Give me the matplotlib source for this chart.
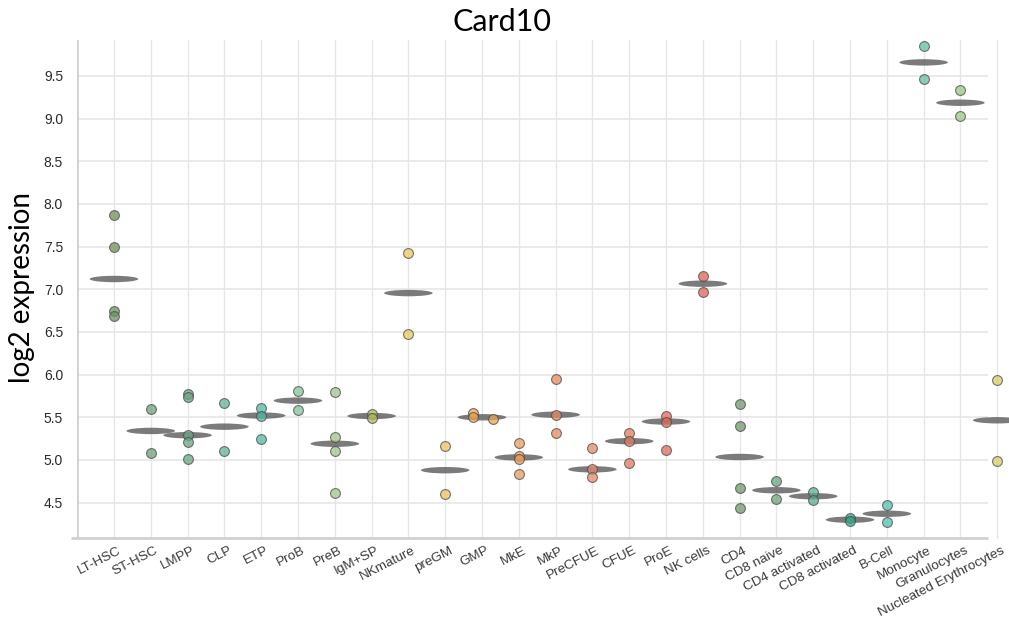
import numpy as np
import matplotlib
matplotlib.use("Agg")
import matplotlib.pyplot as plt
from matplotlib.patches import Ellipse
from matplotlib.transforms import ScaledTranslation

# Cell types shown along the x axis
cell_types = [
    "LT-HSC", "ST-HSC", "LMPP", "CLP", "ETP", "ProB", "PreB", "IgM+SP",
    "NKmature", "preGM", "GMP", "MkE", "MkP", "PreCFUE", "CFUE", "ProE",
    "NK cells", "CD4", "CD8 naive", "CD4 activated", "CD8 activated",
    "B-Cell", "Monocyte", "Granulocytes", "Nucleated Erythrocytes",
]

# log2 expression of Card10 for each replicate
expression = [
    [7.87, 7.50, 6.74, 6.69],
    [5.60, 5.08],
    [5.77, 5.74, 5.29, 5.21, 5.01],
    [5.67, 5.11],
    [5.61, 5.52, 5.25],
    [5.81, 5.58],
    [5.80, 5.27, 5.11, 4.61],
    [5.535, 5.495],
    [7.43, 6.48],
    [5.16, 4.60],
    [5.55, 5.50, 5.48],
    [5.20, 5.05, 5.01, 4.84],
    [5.95, 5.53, 5.31],
    [5.14, 4.89, 4.80],
    [5.31, 5.22, 4.97],
    [5.52, 5.45, 5.12],
    [7.16, 6.97],
    [5.65, 5.40, 4.67, 4.44],
    [4.75, 4.54],
    [4.62, 4.53],
    [4.32, 4.28],
    [4.47, 4.27],
    [9.855, 9.46],
    [9.34, 9.03],
    [5.94, 4.99],
]

# Horizontal spread of replicates that would otherwise overlap
jitter = {"GMP": [-0.25, -0.25, 0.30]}

colors = [
    "#6e9163", "#6f9f78", "#69a585", "#5db39c", "#52b9a4", "#86c29c",
    "#a3c48a", "#b0b85c", "#eac85e", "#f0c15f", "#eca552", "#eb9c5e",
    "#e88a5e", "#e58a6c", "#e27a63", "#e06b5a", "#e06556", "#6f9a6a",
    "#6aa47b", "#58ae8c", "#3aa58b", "#4fc1ab", "#62c19a", "#9dc77f",
    "#d3cf6a",
]

y_ticks = [4.5, 5.0, 5.5, 6.0, 6.5, 7.0, 7.5, 8.0, 8.5, 9.0, 9.5]

W, H = 1009, 627
fig = plt.figure(figsize=(W / 100, H / 100), dpi=100)
ax = fig.add_axes([77 / W, (H - 539) / H, (W - 77) / W, (539 - 40) / H])

x = np.arange(len(cell_types))
xmin, xmax = -1.005, 24.32
ymin, ymax = 4.074, 9.92
grid_right = 23.75

# Grid
for xi in x:
    ax.axvline(xi, color="#e6e6e6", lw=1.0, zorder=0)
for yt in y_ticks:
    ax.hlines(yt, xmin, grid_right, color="#e6e6e6", lw=1.2, zorder=0)
ax.axvline(xmin + 0.01, color="#d0d0d0", lw=2.0, zorder=1)
ax.hlines(ymin + 0.01, xmin - 0.15, grid_right, color="#d0d0d0", lw=2.0,
          zorder=1, clip_on=False)

# Median bars and replicate points
for i, (name, vals, col) in enumerate(zip(cell_types, expression, colors)):
    med = float(np.median(vals))
    ax.add_patch(Ellipse((i, med), width=1.32, height=0.075,
                         facecolor="#5a5a5a", edgecolor="none", alpha=0.8,
                         zorder=2))
    offs = jitter.get(name, [0.0] * len(vals))
    ax.scatter(i + np.array(offs), vals, s=50, color=col, alpha=0.75,
               edgecolors="#4a4a4a", linewidths=0.8, zorder=3)

ax.set_xlim(xmin, xmax)
ax.set_ylim(ymin, ymax)
for s in ax.spines.values():
    s.set_visible(False)

ax.set_yticks(y_ticks)
ax.set_yticklabels([f"{v:.1f}" for v in y_ticks], fontsize=10,
                   color="#2a2a2a", family="Liberation Sans")
ax.tick_params(axis="y", length=0, pad=10)

ax.set_xticks(x)
ax.set_xticklabels(cell_types, rotation=27, ha="right", va="top",
                   rotation_mode="anchor", fontsize=9.7, color="#3a3a3a",
                   family="Liberation Sans")
ax.tick_params(axis="x", length=0, pad=4)
shift = ScaledTranslation(4 / 100, 0, fig.dpi_scale_trans)
for lab in ax.get_xticklabels():
    lab.set_transform(lab.get_transform() + shift)

fig.text(502 / W, 1 - 22 / H, "Card10", ha="center", va="center",
         fontsize=22, family="Lato", color="black")
fig.text(22 / W, 1 - 288 / H, "log2 expression", ha="center", va="center",
         rotation=90, fontsize=20, family="Lato", color="black")

fig.savefig("out.png", dpi=100)
